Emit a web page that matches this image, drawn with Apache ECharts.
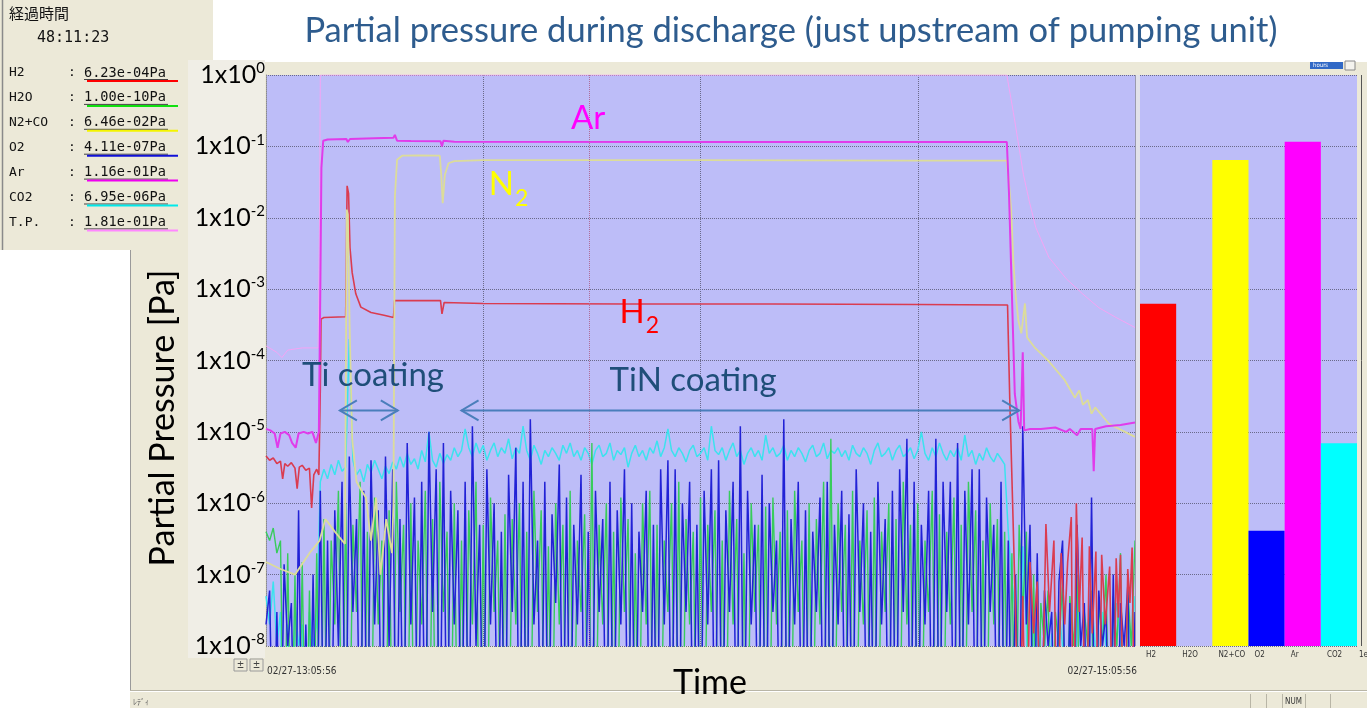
<!DOCTYPE html>
<html><head><meta charset="utf-8">
<script src="https://cdn.jsdelivr.net/npm/echarts@6/dist/echarts.min.js"></script>
<style>html,body{margin:0;padding:0;background:#fff}#c{width:1367px;height:708px}</style>
</head><body><div id="c"></div>
<script>
// ---------------- DATA ----------------
const titleText = 'Partial pressure during discharge (just upstream of pumping unit)';
const yAxisTitle = 'Partial Pressure [Pa]';
const xAxisTitle = 'Time';
const startLabel = '02/27-13:05:56';
const endLabel = '02/27-15:05:56';
const elapsedLabel = '経過時間';
const elapsedValue = '48:11:23';
const legendNames = ['H2', 'H2O', 'N2+CO', 'O2', 'Ar', 'CO2', 'T.P.'];
const legendValues = ['6.23e-04Pa', '1.00e-10Pa', '6.46e-02Pa', '4.11e-07Pa', '1.16e-01Pa', '6.95e-06Pa', '1.81e-01Pa'];
const barCategories = ['H2', 'H2O', 'N2+CO', 'O2', 'Ar', 'CO2'];
const barValues = [6.23e-4, 1.00e-10, 6.46e-2, 4.11e-7, 1.16e-1, 6.95e-6];

// time in minutes after 13:05:56 (1e-10 Pa = instrument floor, below the axis)
const h2Time = [0,0.5,1,1.5,2,2.3,2.6,3,3.5,4,4.3,4.6,5,5.5,6,6.3,6.6,7,7.3,7.5,7.6,8,11.0,11.2,11.4,11.6,11.9,12.4,13.1,14.5,16.3,17.6,17.75,24.1,24.3,24.6,30,50,70,90,102.4,102.7,103.1,103.5,104,104.5,105,105.5,106,106.5,107,107.7,108.2,108.8,109.3,109.8,110.3,110.7,111.2,111.5,111.9,112.3,112.7,113.2,113.7,114.1,114.6,115,115.4,115.9,116.5,117,117.4,117.7,118,118.5,119,119.3,119.6,120];
const h2Values = [4.6e-6,4e-6,4.3e-6,3.6e-6,3.9e-6,2.2e-6,3.6e-6,3.3e-6,3.7e-6,3.1e-6,1.6e-6,3.2e-6,3.4e-6,2.9e-6,3.1e-6,8.6e-7,2.5e-6,3e-6,2.5e-6,4e-5,3.8e-4,4e-4,4.1e-4,2.8e-2,2.2e-2,3.8e-3,1.7e-3,8.6e-4,5.6e-4,4.7e-4,4.3e-4,4e-4,6.9e-4,6.9e-4,4.5e-4,6.5e-4,6.3e-4,6.2e-4,6.2e-4,6.1e-4,6e-4,3e-5,1e-6,3e-8,1e-10,5e-8,1e-10,1.5e-7,1.5e-8,8e-8,1e-10,5.1e-7,3e-8,3e-7,1e-10,2e-7,2e-8,1.5e-7,6.4e-7,1e-10,1e-6,3e-8,3.3e-7,1e-10,2.5e-7,1.5e-8,2.1e-7,1e-10,1.9e-7,2e-8,1.3e-7,1e-10,1.7e-7,2.5e-8,1.9e-7,1e-10,1.2e-7,4e-8,2.4e-7,1e-10];

const n2Time = [0,2,4,6,7.4,8.2,9.5,10.9,11.15,11.3,11.55,11.9,12.5,13.2,13.8,14.5,15.2,15.8,16.6,17.4,17.6,17.8,18.1,18.8,21,24.0,24.2,24.4,24.7,25.2,26,30,60,90,102.3,102.6,102.9,103.2,103.5,103.9,104.3,104.8,105.1,106.2,108.0,110.3,111.7,112.3,112.8,113.5,114.0,114.5,116.4,118.2,120];
const n2Values = [1.5e-7,1.2e-7,1e-7,2e-7,3e-7,6e-7,4e-7,2.7e-7,1.3e-2,1.1e-2,3e-4,8e-6,2e-6,1.5e-6,1.2e-6,3e-7,1.2e-6,1e-7,6e-7,2e-7,1e-6,2e-2,6.5e-2,7.4e-2,7.5e-2,7.4e-2,4e-2,1.6e-2,4e-2,5.8e-2,6.2e-2,6.4e-2,6.4e-2,6.3e-2,6.3e-2,3e-2,1.3e-2,2.5e-3,8.6e-4,3.6e-4,2.4e-4,6.3e-4,2.1e-4,1.5e-4,1e-4,5.3e-5,3e-5,3.8e-5,2.4e-5,2.8e-5,1.8e-5,2.2e-5,1.3e-5,1.05e-5,8.5e-6];

const arTime = [0,0.6,1.2,1.6,2.0,2.6,3.2,3.6,4.1,4.5,5.2,5.8,6.4,6.9,7.3,7.5,7.65,7.9,8.5,11.1,11.3,11.6,15,17.6,17.8,18.1,20,24.1,24.3,24.5,26,60,102.3,102.6,103.0,103.4,103.9,104.2,104.5,104.7,105.5,107,109,110.5,111,112,112.5,113.5,114.1,114.3,114.5,116,118,120];
const arValues = [1.1e-5,1.05e-5,9.5e-6,6e-6,9.5e-6,1e-5,9e-6,7e-6,6e-6,9.5e-6,1e-5,9.5e-6,1e-5,7e-6,1e-5,1e-3,5e-2,1.2e-1,1.25e-1,1.27e-1,1.15e-1,1.27e-1,1.3e-1,1.32e-1,1.45e-1,1.2e-1,1.19e-1,1.18e-1,1e-1,1.2e-1,1.16e-1,1.15e-1,1.15e-1,2.2e-2,8.6e-4,3.4e-5,1.4e-5,1.1e-5,1.3e-4,1.05e-5,1.1e-5,1.1e-5,1.15e-5,1e-5,1.1e-5,9e-6,1.1e-5,1.1e-5,1.1e-5,2.8e-6,1.1e-5,1.2e-5,1.25e-5,1.35e-5];

const tpTime = [0,1.5,2.2,3.0,5,7.2,7.4,7.5,102.3,103.2,104.6,105.4,106.3,108.1,110.5,112.7,115,117.4,120];
const tpValues = [1.6e-4,1.3e-4,1.1e-4,1.4e-4,1.5e-4,1.5e-4,1e-2,1,1,3e-1,4e-2,1.7e-2,7.3e-3,2.8e-3,1.4e-3,8.7e-4,5.5e-4,4e-4,2.9e-4];

// noisy channels, one reading every 0.5 min from 0 to 120 min
const noiseStep = 0.5;
const o2Values = [
 2e-8,6e-8,1e-10,3e-8,1e-10,1.4e-7,1e-8,4e-8,1e-10,8e-7,1e-10,2e-8,1e-10,1e-7,1e-10,1.5e-6,1e-10,3e-7,1e-10,8e-7,
 1e-8,2e-6,1e-10,4.5e-6,3e-8,6e-7,1e-10,1.5e-6,1e-10,4e-6,2e-8,8e-7,1e-10,4.5e-6,1e-8,3e-6,1e-10,6e-7,1e-10,7e-6,
 2e-8,1.2e-6,1e-10,2e-6,1e-10,1e-5,3e-8,3e-6,1e-10,7e-6,1e-10,1.5e-6,2e-8,8e-7,1e-10,2e-6,1e-10,1.2e-5,1e-8,5e-7,
 1e-10,3e-6,2e-8,1e-6,1e-10,4e-7,1e-10,2.5e-6,3e-8,6e-6,1e-10,2e-6,1e-10,1.5e-5,2e-8,3e-7,1e-10,2e-6,1e-10,7e-7,
 4e-8,3.5e-6,1e-10,1.2e-6,1e-10,5e-7,2e-8,2.5e-6,1e-10,4e-7,1e-10,1.5e-6,3e-8,6e-7,1e-10,2e-6,1e-10,8e-7,2e-8,3e-6,
 1e-10,1e-6,1e-10,4e-7,3e-8,1.5e-6,1e-10,5e-7,1e-10,3e-6,2e-8,4e-6,1e-10,3e-6,1e-10,1e-6,3e-8,2e-6,1e-10,5e-7,
 1e-10,1.5e-6,2e-8,3e-6,1e-10,4e-6,1e-10,8e-7,3e-8,2e-6,1e-10,1.2e-5,1e-10,1.5e-6,2e-8,5e-7,1e-10,2.5e-6,1e-10,1e-6,
 3e-8,3e-7,1e-10,1.5e-5,1e-10,6e-7,2e-8,2e-6,1e-10,8e-7,1e-10,4e-7,3e-8,1.2e-6,1e-10,2e-6,1e-10,5e-7,2e-8,1.5e-6,
 1e-10,7e-7,1e-10,3e-6,3e-8,1e-6,1e-10,4e-7,1e-10,2e-6,2e-8,6e-7,1e-10,1.5e-6,1e-10,3e-6,3e-8,8e-6,1e-10,2e-6,
 1e-10,5e-7,2e-8,1.5e-6,1e-10,8e-6,1e-10,2e-6,3e-8,2e-6,1e-10,7e-6,1e-10,1.5e-6,2e-8,3e-6,1e-10,3e-6,1e-10,1.2e-6,
 3e-8,5e-7,1e-10,2e-6,1e-10,3e-7,1e-10,1e-7,1e-10,1.2e-5,2e-8,5e-7,1e-10,2e-7,1e-10,6e-8,1e-8,3e-8,1e-10,8e-8,
 3e-7,1e-10,4e-8,1e-10,5e-7,1e-8,4e-8,1e-10,1.2e-6,1e-10,6e-8,1e-8,3e-8,1e-10,1e-7,1e-10,4e-8,1e-8,7e-8,1e-10,
 3e-8];
const h2oValues = [
 4e-7,3e-7,4.5e-7,2e-7,3e-7,1e-10,2e-7,1e-10,1e-7,1e-10,1.5e-7,1e-10,6e-8,1e-10,2e-7,1e-10,6e-7,1e-10,3e-7,2e-8,
 1.5e-6,1e-10,1e-6,1e-10,5e-7,3e-8,2e-6,1e-10,4e-7,1e-10,1.2e-6,2e-8,3e-7,1e-10,8e-7,1e-10,2e-6,3e-8,5e-7,1e-10,
 1e-6,1e-10,3e-7,2e-8,1.5e-6,1e-10,6e-7,1e-10,2e-6,3e-8,4e-7,1e-10,1e-6,1e-10,3e-7,1e-10,8e-7,2e-8,2e-6,1e-10,
 5e-7,1e-10,1.2e-6,3e-8,3e-7,1e-10,7e-7,1e-10,6e-7,2e-8,1e-6,1e-10,4e-7,1e-10,1.5e-6,3e-8,8e-7,1e-10,2.5e-7,1e-10,
 1e-6,2e-8,5e-7,1e-10,1.5e-6,1e-10,3e-7,3e-8,7e-7,1e-10,7e-6,1e-10,5e-7,2e-8,1e-6,1e-10,4e-7,1e-10,1.2e-6,3e-8,
 6e-7,1e-10,2e-7,1e-10,1e-6,2e-8,1.5e-6,1e-10,5e-7,1e-10,3e-7,3e-8,1e-6,1e-10,2e-6,1e-10,6e-7,2e-8,4e-7,1e-10,
 1.2e-6,1e-10,5e-7,3e-8,8e-7,1e-10,3e-7,1e-10,1.5e-6,2e-8,6e-7,1e-10,2e-7,1e-10,1e-6,3e-8,5e-7,1e-10,9e-7,1e-10,
 1.2e-6,2e-8,4e-7,1e-10,8e-7,1e-10,1.5e-6,3e-8,3e-7,1e-10,1e-6,1e-10,6e-7,2e-8,2e-6,1e-10,8e-6,1e-10,1e-6,3e-8,
 5e-7,1e-10,1.5e-6,1e-10,3e-7,2e-8,8e-7,1e-10,1.2e-6,1e-10,4e-7,3e-8,1e-6,1e-10,6e-7,1e-10,2e-6,2e-8,5e-7,1e-10,
 1e-6,1e-10,3e-7,3e-8,1.5e-6,1e-10,7e-7,1e-10,4e-7,2e-8,1.2e-6,1e-10,5e-7,1e-10,2e-6,3e-8,8e-7,1e-10,3e-7,1e-10,
 1e-6,2e-8,6e-7,1e-10,4e-7,1e-10,2e-7,1e-10,5e-7,3e-8,4e-7,1e-10,1e-7,1e-10,4e-8,1e-8,6e-8,1e-10,3e-8,1e-8,
 8e-8,1e-10,5e-8,1e-8,1e-7,1e-10,3e-8,1e-8,6e-8,1e-10,4e-8,1e-8,1e-7,1e-10,5e-8,1e-8,2e-7,1e-10,6e-8,1e-8,
 3e-7];
const co2Values = [
 5e-8,2e-8,8e-8,1e-8,3e-8,1e-10,2e-8,1e-10,4e-8,1e-8,2e-8,1e-10,3e-8,1e-8,2e-8,2e-6,3e-6,2.2e-6,3.5e-6,2.5e-6,
 4e-6,2.8e-6,3.2e-6,2e-4,4e-6,2.5e-6,3e-6,2e-6,3.5e-6,2.7e-6,4e-6,3e-6,2.2e-6,3.3e-6,2.6e-6,3.8e-6,3e-6,4.5e-6,3.2e-6,5e-6,
 3.5e-6,4.2e-6,3e-6,5.5e-6,3.8e-6,1e-5,4e-6,3.2e-6,5e-6,3.6e-6,4.8e-6,4e-6,6e-6,4.5e-6,5.5e-6,1.1e-5,6e-6,4.5e-6,7e-6,5e-6,
 6.5e-6,4e-6,5.5e-6,7e-6,4.5e-6,6e-6,5e-6,8e-6,4.2e-6,6e-6,5e-6,1.2e-5,5.5e-6,4e-6,6.5e-6,5e-6,3.5e-6,5.5e-6,4.5e-6,6e-6,
 5e-6,4e-6,6.5e-6,5e-6,7e-6,4.5e-6,5.5e-6,4e-6,6e-6,5e-6,3.5e-6,5.5e-6,6.5e-6,4.5e-6,5e-6,7e-6,4e-6,5.5e-6,4.8e-6,6e-6,
 3.2e-6,5e-6,6.5e-6,4.5e-6,5.5e-6,4e-6,6e-6,5e-6,7.5e-6,4.5e-6,6e-6,1.1e-5,5.5e-6,4.5e-6,6e-6,5e-6,3.8e-6,5.5e-6,6.5e-6,4.5e-6,
 5e-6,6e-6,4e-6,1.2e-5,5.5e-6,4.8e-6,6e-6,4e-6,5.5e-6,7e-6,4.5e-6,5.5e-6,3.5e-6,5e-6,6e-6,4.5e-6,5.5e-6,4e-6,9e-6,5e-6,
 6e-6,4.5e-6,5e-6,6.5e-6,4e-6,5.5e-6,4.5e-6,6e-6,5e-6,3.8e-6,5.5e-6,6.5e-6,4.5e-6,5e-6,7e-6,4.2e-6,5.5e-6,5e-6,6e-6,4.5e-6,
 5.5e-6,4e-6,6.5e-6,5e-6,4.5e-6,6e-6,5e-6,3.5e-6,5.5e-6,7e-6,4.5e-6,5e-6,6e-6,4e-6,5.5e-6,6.5e-6,4.5e-6,5e-6,6e-6,4.2e-6,
 5.5e-6,1e-5,5e-6,4e-6,6e-6,4.5e-6,7e-6,5e-6,4e-6,5.5e-6,4.5e-6,6e-6,4e-6,9e-6,4.5e-6,5.5e-6,3.5e-6,5e-6,4e-6,6e-6,
 4.5e-6,3.8e-6,5e-6,4.2e-6,3.5e-6,4e-7,8e-8,3e-8,1e-10,2.5e-7,2e-8,1e-10,3e-8,1e-8,1e-10,2e-8,1e-10,1.5e-8,1e-10,3e-8,
 1e-8,1e-10,2e-8,1e-10,4e-8,1e-8,1e-10,2e-8,5e-8,1e-8,1e-10,3e-8,1e-8,1e-10,2e-8,4e-8,1e-8,1e-10,3e-8,1e-8,
 5e-8];
const cursorTime = 44.7;

// ---------------- STYLE / LAYOUT ----------------
const Y_MIN = 1e-8, Y_MAX = 1;
const PLOT_BG = '#BDBDF8';
const GRID_LINE = {color: '#6A6A8A', type: 'dotted', width: 1};
const C = {h2: '#DA3C50', h2o: '#38CC5C', n2: '#DCDC9A', o2: '#2222D6', ar: '#E03CEA', co2: '#3CE2EE', tp: '#F4A4F4'};
const barColors = ['#FF0000', '#00FF00', '#FFFF00', '#0000FF', '#FF00FF', '#00FFFF'];
const legendLineColors = ['#FF0000', '#10E010', '#F4F400', '#1010D8', '#F000F0', '#00EAEA', '#FF88FF'];
const ANNOT_COLOR = '#1F4E79', ARROW_COLOR = '#4A7EBB';
const FONT = 'Lato, "Open Sans", sans-serif';
const MONO = '"DejaVu Sans Mono", "Liberation Mono", monospace';
const NARROW = '"Liberation Sans Narrow", "DejaVu Sans Condensed", sans-serif';

const pairs = (ts, vs) => ts.map((t, i) => [t, vs[i]]);
const gridPairs = vs => vs.map((v, i) => [i * noiseStep, v]);

const chart = echarts.init(document.getElementById('c'), null, {renderer: 'canvas', width: 1367, height: 708});

function lineSeries(name, data, color, width, extra) {
  return Object.assign({
    name, type: 'line', xAxisIndex: 0, yAxisIndex: 0, data, showSymbol: false, symbol: 'none',
    lineStyle: {color, width}, itemStyle: {color}, clip: true, silent: true
  }, extra || {});
}

chart.setOption({
  backgroundColor: '#ffffff',
  animation: false,
  grid: [
    {left: 266, top: 75, width: 869, height: 571, show: true, backgroundColor: PLOT_BG, borderWidth: 0},
    {left: 1140, top: 75, width: 217, height: 571, show: true, backgroundColor: PLOT_BG, borderWidth: 0}
  ],
  xAxis: [
    {gridIndex: 0, type: 'value', min: 0, max: 120, interval: 30,
     axisLine: {show: false}, axisTick: {show: false}, axisLabel: {show: false},
     splitLine: {show: true, lineStyle: GRID_LINE}},
    {gridIndex: 1, type: 'category', data: barCategories,
     axisLine: {show: false}, axisTick: {show: false}, axisLabel: {show: false}, splitLine: {show: false}}
  ],
  yAxis: [
    {gridIndex: 0, type: 'log', logBase: 10, min: Y_MIN, max: Y_MAX,
     axisLine: {show: true, lineStyle: {color: '#8A8A8A', type: 'dotted'}}, axisTick: {show: false},
     splitLine: {show: true, lineStyle: GRID_LINE},
     axisLabel: {
       margin: 1,
       formatter: v => '{b|1x10}{s|' + Math.round(Math.log10(v)) + '}',
       rich: {
         b: {fontFamily: FONT, fontSize: 25, color: '#000', lineHeight: 28},
         s: {fontFamily: FONT, fontSize: 15, color: '#000', verticalAlign: 'top', lineHeight: 16}
       }
     }},
    {gridIndex: 1, type: 'log', logBase: 10, min: Y_MIN, max: Y_MAX,
     axisLine: {show: false}, axisTick: {show: false}, axisLabel: {show: false},
     splitLine: {show: true, lineStyle: GRID_LINE}}
  ],
  series: [
    lineSeries('CO2', gridPairs(co2Values), C.co2, 1.5, {
      markLine: {silent: true, symbol: 'none', label: {show: false},
        lineStyle: {color: '#B06C98', type: 'dotted', width: 1}, data: [{xAxis: cursorTime}]}
    }),
    lineSeries('H2O', gridPairs(h2oValues), C.h2o, 1.4),
    lineSeries('O2', gridPairs(o2Values), C.o2, 1.5),
    lineSeries('H2', pairs(h2Time, h2Values), C.h2, 1.6),
    lineSeries('N2+CO', pairs(n2Time, n2Values), C.n2, 1.8),
    lineSeries('T.P.', pairs(tpTime, tpValues), C.tp, 1),
    lineSeries('Ar', pairs(arTime, arValues), C.ar, 2),
    {
      name: 'bars', type: 'custom', xAxisIndex: 1, yAxisIndex: 1, silent: true,
      data: barValues.map((v, i) => [i, v]),
      renderItem: (params, api) => {
        const i = api.value(0), v = api.value(1);
        const cs = params.coordSys;
        const w = cs.width / barCategories.length;
        const top = api.coord([i, Math.max(v, Y_MIN)]);
        const base = api.coord([i, Y_MIN]);
        return {type: 'rect', shape: {x: top[0] - w / 2, y: top[1], width: w, height: Math.max(0, base[1] - top[1])},
                style: {fill: barColors[i]}};
      }
    }
  ]
});

// ---------------- ANNOTATIONS & WINDOW CHROME ----------------
const px = (t, v) => chart.convertToPixel({gridIndex: 0}, [t, v]);
const measureCtx = document.createElement('canvas').getContext('2d');
const textWidth = (s, font) => { measureCtx.font = font; return measureCtx.measureText(s).width; };

// anchor = left/centre of the main glyphs, in chart coordinates
const annotations = [
  {main: 'Ar', at: [44.48, 0.243], align: 'center', color: '#FF00FF', size: 33},
  {main: 'N', sub: '2', at: [30.76, 0.0293], align: 'left', color: '#FFFF00', size: 33},
  {main: 'H', sub: '2', at: [48.83, 4.77e-4], align: 'left', color: '#FF0000', size: 33},
  {main: 'Ti coating', at: [4.97, 6.1e-5], align: 'left', color: ANNOT_COLOR, size: 33},
  {main: 'TiN coating', at: [47.45, 5.2e-5], align: 'left', color: ANNOT_COLOR, size: 33}
];
const arrows = [{from: 10.2, to: 18.2, v: 2.0e-5}, {from: 27.0, to: 104.0, v: 2.0e-5}];

const g = [];
// window chrome (pixel layout of the software screenshot)
g.push({type: 'rect', z: -10, shape: {x: 130, y: 62, width: 1237, height: 646}, style: {fill: '#ECE9D8'}});
g.push({type: 'rect', z: -9, shape: {x: 0, y: 0, width: 213, height: 250}, style: {fill: '#ECE9D8'}});
g.push({type: 'rect', z: -8, shape: {x: 188, y: 60, width: 77, height: 598}, style: {fill: '#F0EEE6'}});
g.push({type: 'line', z: -7, shape: {x1: 130.5, y1: 250, x2: 130.5, y2: 690}, style: {stroke: '#9A9A9A', lineWidth: 1}});
g.push({type: 'line', z: -7, shape: {x1: 2.5, y1: 0, x2: 2.5, y2: 250}, style: {stroke: '#8A8A8A', lineWidth: 1.5}});
g.push({type: 'line', z: -7, shape: {x1: 130, y1: 691.5, x2: 1367, y2: 691.5}, style: {stroke: '#FFFFFF', lineWidth: 1}});
g.push({type: 'line', z: -7, shape: {x1: 130, y1: 690.5, x2: 1367, y2: 690.5}, style: {stroke: '#B8B5A6', lineWidth: 1}});
g.push({type: 'rect', z: 5, shape: {x: 1135, y: 75, width: 5, height: 571}, style: {fill: '#E2E2EA'}});
g.push({type: 'line', z: 5, shape: {x1: 1135.5, y1: 75, x2: 1135.5, y2: 646}, style: {stroke: '#9A9AAE', lineWidth: 1}});
g.push({type: 'line', z: -7, shape: {x1: 1361.5, y1: 75, x2: 1361.5, y2: 646}, style: {stroke: '#555', lineWidth: 1}});
g.push({type: 'rect', z: -7, shape: {x: 1310, y: 62, width: 33, height: 7}, style: {fill: '#3169C6'}});
g.push({type: 'rect', z: -7, shape: {x: 1345, y: 61, width: 10, height: 9}, style: {fill: '#F4F3EE', stroke: '#888', lineWidth: 1}});
g.push({type: 'text', z: -6, x: 1313, y: 65.5, style: {text: 'hours', fill: '#fff', font: '6px ' + NARROW, verticalAlign: 'middle'}});
g.push({type: 'rect', z: -7, shape: {x: 234, y: 659, width: 13, height: 12}, style: {fill: '#ECE9D8', stroke: '#9A9A9A', lineWidth: 1}});
g.push({type: 'rect', z: -7, shape: {x: 250, y: 659, width: 13, height: 12}, style: {fill: '#ECE9D8', stroke: '#9A9A9A', lineWidth: 1}});
g.push({type: 'text', z: -6, x: 240.5, y: 665, style: {text: '±', fill: '#444', font: '10px ' + NARROW, align: 'center', verticalAlign: 'middle'}});
g.push({type: 'text', z: -6, x: 256.5, y: 665, style: {text: '±', fill: '#444', font: '10px ' + NARROW, align: 'center', verticalAlign: 'middle'}});
g.push({type: 'text', z: -6, x: 133, y: 702, style: {text: 'ﾚﾃﾞｨ', fill: '#555', font: '8px "Noto Sans CJK JP"', verticalAlign: 'middle'}});
g.push({type: 'text', z: -6, x: 1285, y: 702, style: {text: 'NUM', fill: '#333', font: '8px ' + NARROW, verticalAlign: 'middle'}});
[1250, 1266, 1282, 1305, 1330].forEach(x => g.push({type: 'line', z: -6, shape: {x1: x + 0.5, y1: 694, x2: x + 0.5, y2: 708}, style: {stroke: '#B8B5A6', lineWidth: 1}}));

// legend panel
g.push({type: 'text', x: 9, y: 13, style: {text: elapsedLabel, fill: '#111', font: '15px "Noto Sans CJK JP"', verticalAlign: 'middle'}});
g.push({type: 'text', x: 37, y: 38, style: {text: elapsedValue, fill: '#111', font: '15px ' + MONO, verticalAlign: 'middle'}});
legendNames.forEach((n, i) => {
  const yc = 73 + i * 24.9;
  g.push({type: 'text', x: 9, y: yc, style: {text: n, fill: '#111', font: '13px ' + MONO, verticalAlign: 'middle'}});
  g.push({type: 'text', x: 68, y: yc, style: {text: ':', fill: '#111', font: '13px ' + MONO, verticalAlign: 'middle'}});
  g.push({type: 'text', x: 84, y: yc, style: {text: legendValues[i], fill: '#111', font: '13.6px ' + MONO, verticalAlign: 'middle'}});
  g.push({type: 'line', shape: {x1: 84, y1: yc + 6.5, x2: 168, y2: yc + 6.5}, style: {stroke: '#444', lineWidth: 1}});
  g.push({type: 'rect', shape: {x: 87, y: yc + 7, width: 91, height: 2}, style: {fill: legendLineColors[i]}});
});

// title and axis titles
g.push({type: 'text', x: 791, y: 31, style: {text: titleText, fill: '#2E5C8E', font: '34.5px ' + FONT, align: 'center', verticalAlign: 'middle'}});
g.push({type: 'text', x: 163, y: 418, rotation: Math.PI / 2, style: {text: yAxisTitle, fill: '#000', font: '34px ' + FONT, align: 'center', verticalAlign: 'middle'}});
g.push({type: 'text', x: 710, y: 683, style: {text: xAxisTitle, fill: '#000', font: '34px ' + FONT, align: 'center', verticalAlign: 'middle'}});

// time-axis end labels
const p0 = px(0, Y_MIN), p1 = px(120, Y_MIN);
g.push({type: 'text', x: p0[0] + 1, y: p0[1] + 25, style: {text: startLabel, fill: '#333', font: '10px ' + NARROW, verticalAlign: 'middle'}});
g.push({type: 'text', x: p1[0] + 2, y: p1[1] + 25, style: {text: endLabel, fill: '#333', font: '10px ' + NARROW, align: 'right', verticalAlign: 'middle'}});

// bar category labels
barCategories.forEach((c, i) => {
  const p = chart.convertToPixel({xAxisIndex: 1, yAxisIndex: 1}, [i, Y_MIN]);
  g.push({type: 'text', x: p[0] - 12, y: p[1] + 9, style: {text: c, fill: '#333', font: '8px ' + NARROW, verticalAlign: 'middle'}});
});
g.push({type: 'text', x: 1359, y: 655, style: {text: '1e', fill: '#333', font: '8px ' + NARROW, verticalAlign: 'middle'}});

// in-plot annotations
annotations.forEach(a => {
  const p = px(a.at[0], a.at[1]);
  const font = a.size + 'px ' + FONT;
  g.push({type: 'text', z: 100, x: p[0], y: p[1], style: {text: a.main, fill: a.color, font, align: a.align, verticalAlign: 'middle'}});
  if (a.sub) {
    const w = textWidth(a.main, font);
    g.push({type: 'text', z: 100, x: p[0] + w + 1, y: p[1] + 14, style: {text: a.sub, fill: a.color, font: '23px ' + FONT, align: 'left', verticalAlign: 'middle'}});
  }
});
arrows.forEach(a => {
  const s = px(a.from, a.v), e = px(a.to, a.v);
  const st = {stroke: ARROW_COLOR, lineWidth: 2, fill: null};
  g.push({type: 'line', z: 100, shape: {x1: s[0], y1: s[1], x2: e[0], y2: e[1]}, style: st});
  g.push({type: 'polyline', z: 100, shape: {points: [[s[0] + 17, s[1] - 10], [s[0], s[1]], [s[0] + 17, s[1] + 10]]}, style: st});
  g.push({type: 'polyline', z: 100, shape: {points: [[e[0] - 17, e[1] - 10], [e[0], e[1]], [e[0] - 17, e[1] + 10]]}, style: st});
});

chart.setOption({graphic: g});
</script>
</body></html>
